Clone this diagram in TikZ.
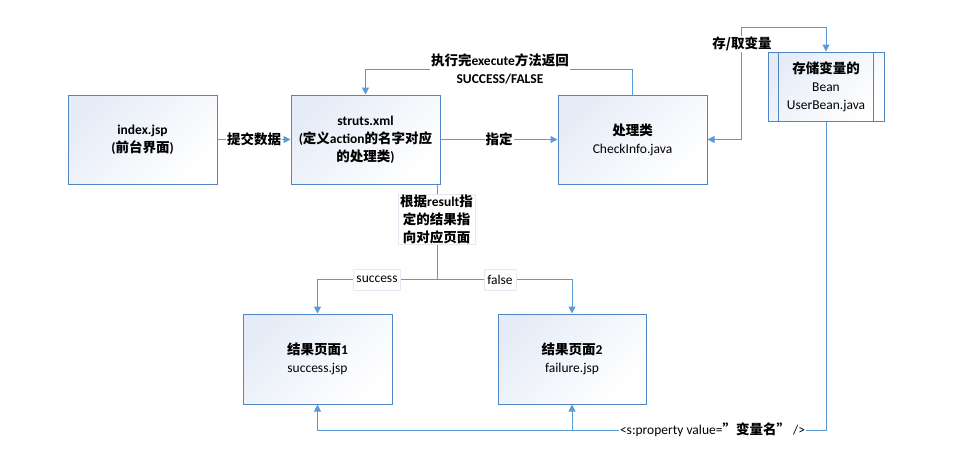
\documentclass[tikz,border=0pt]{standalone}
\usepackage{fontspec}
\setmainfont{Carlito}
\newfontfamily\zhfont{Noto Sans CJK SC}
\newcommand{\zh}[1]{{\zhfont #1}}
\usepackage{tikz}
\usetikzlibrary{arrows.meta}
\definecolor{boxline}{HTML}{4F86C3}
\definecolor{flowline}{HTML}{5B9BD5}
\definecolor{boxshade}{HTML}{E6ECF7}
\definecolor{tagline}{HTML}{E3E8F2}
\tikzset{every picture/.style={execute at begin picture={\fontsize{13.5}{18}\selectfont}}}
\tikzstyle{page}=[draw=boxline,line width=1pt,minimum width=149,minimum height=89,align=center,
  top color=boxshade,bottom color=white,shading angle=45,inner sep=2]
\tikzstyle{tag}=[fill=white,inner sep=1,align=center]
\tikzstyle{flow}=[draw=flowline,line width=1pt,-{Triangle[length=7pt,width=7pt]}]
\tikzstyle{wire}=[draw=flowline,line width=1pt]

\begin{document}
\begin{tikzpicture}[x=1pt,y=-1pt]
\useasboundingbox (0,0) rectangle (968,472);

	\node[page,font=\bfseries] (idx) at (142.5,139.5) {index.jsp\\(\zh{前台界面})};
	\node[page,font=\bfseries] (struts) at (365.5,139.5)
	{struts.xml\\(\zh{定义}action\zh{的名字对应}\\\zh{的处理类})};
	\node[page] (check) at (632.5,139.5) {{\bfseries\zh{处理类}}\\CheckInfo.java};
	\node[page,minimum width=116,minimum height=69] (bean) at (826,86.5)
	{{\bfseries\zh{存储变量的}}\\Bean\\UserBean.java};
	
	\node[page,minimum height=90] (res1) at (317.5,359) {{\bfseries\zh{结果页面}1}\\success.jsp};
	\node[page,minimum height=90,minimum width=148] (res2) at (572,359) {{\bfseries\zh{结果页面}2}\\failure.jsp};

	\path[draw=boxline,line width=1pt] ([xshift=11]bean.north west) -- ([xshift=11]bean.south west);
	\path[draw=boxline,line width=1pt] ([xshift=-11]bean.north east) -- ([xshift=-11]bean.south east);


% % % request
	\path[flow] (idx) -- node[tag,font=\bfseries] (submit) {\zh{提交数据}} (struts);
	\path[flow] (struts) -- node[tag,font=\bfseries] (assign) {\zh{指定}} (check);

	\coordinate (done) at (500,69);
	\path[flow] (check.north) |- (done) -| (struts.north);
	\node[tag,font=\bfseries] (exec) at (done) {\zh{执行完}execute\zh{方法返回}\\SUCCESS/FALSE};

	\coordinate (keep) at (741,27);
	\path[flow,{Triangle[length=7pt,width=7pt]}-{Triangle[length=7pt,width=7pt]}]
	(check.east) -| (keep) -| (bean.north);
	\node[tag,font=\bfseries] (store) at (742,44) {\zh{存/取变量}};


% % % result
	\coordinate (split) at (437,279.5);
	\path[wire] (struts.south -| split) -- (split);
	\path[flow] (split) -| (res1.north);
	\path[flow] (split) -| (res2.north);

	\node[tag,draw=tagline,font=\bfseries,inner xsep=2,inner ysep=0.5] (rule) at (436.5,219)
	{\zh{根据}result\zh{指}\\\zh{定的结果指}\\\zh{向对应页面}};
	\node[tag,draw=tagline,inner sep=3,minimum height=21] (yes) at (377,279.5) {success};
	\node[tag,draw=tagline,inner sep=3,minimum height=21] (no) at (500,279.5) {false};


% % % bean value
	\coordinate (back) at (826,430);
	\path[flow] (bean.south) -- (back) -| (res2.south);
	\path[flow] (res2.south |- back) -| (res1.south);
	\node[tag] (prop) at (712.5,430) {<s:property value=\zh{\bfseries”变量名”} />};

\end{tikzpicture}
\end{document}
